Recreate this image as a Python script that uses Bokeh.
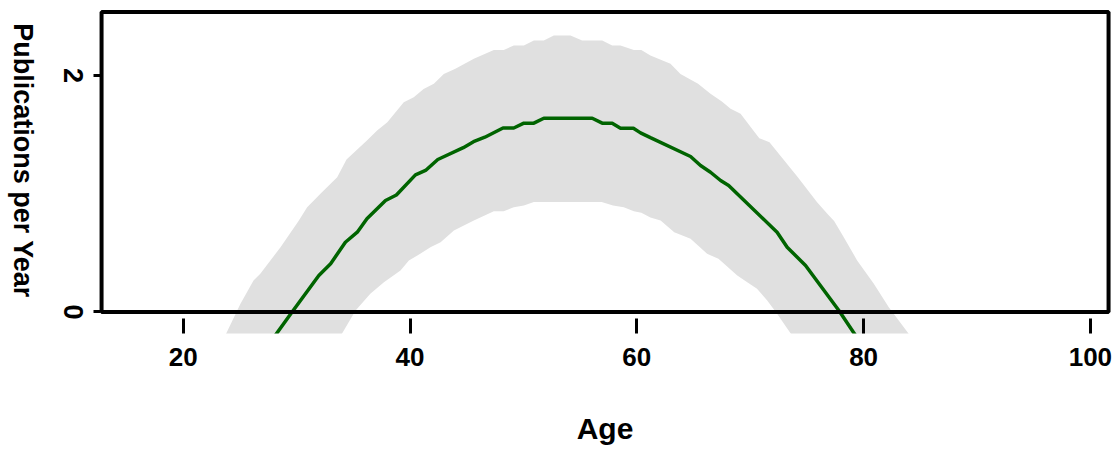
import math
from bokeh.plotting import figure
from bokeh.layouts import row
from bokeh.models import FixedTicker, BoxAnnotation, Range1d
from bokeh.core.properties import value
from bokeh.embed import file_html
from bokeh.resources import INLINE

# ---- data ----
line_age = [28.1, 29.6, 31.96, 33.0, 34.3, 35.35, 36.2, 37.84, 38.8, 40.48, 41.37, 42.45,
            44.7, 45.6, 46.6, 48.2, 49.15, 50.04, 50.92, 51.8, 56.07, 56.95, 57.83, 58.56,
            59.7, 60.33, 61.2, 64.74, 65.62, 66.5, 67.39, 68.1, 72.37, 73.26, 74.88, 77.82, 79.3]
line_val = [-0.2, 0.0, 0.309, 0.408, 0.59, 0.675, 0.788, 0.943, 0.99, 1.16, 1.197, 1.29,
            1.39, 1.44, 1.478, 1.556, 1.556, 1.597, 1.597, 1.639, 1.639, 1.597, 1.597, 1.554,
            1.554, 1.515, 1.475, 1.315, 1.239, 1.182, 1.112, 1.07, 0.675, 0.548, 0.393, 0.013, -0.2]

upper_age = [23.7, 25.05, 26.2, 26.8, 28.58, 30.2, 30.93, 31.8, 32.1, 33.58, 34.4, 36.2, 37.1,
             38.0, 39.45, 40.33, 41.2, 42.1, 42.98, 44.0, 45.63, 47.39, 48.27, 49.15, 50.04,
             50.92, 51.8, 52.68, 54.15, 55.18, 56.95, 57.83, 58.56, 59.74, 60.4, 61.2, 62.97,
             63.85, 65.4, 66.5, 67.5, 68.27, 69.15, 70.8, 71.7, 74.2, 75.9, 76.8, 77.4, 78.25,
             79.43, 80.9, 82.22, 84.1]
upper_val = [-0.2, 0.07, 0.266, 0.323, 0.548, 0.774, 0.886, 0.971, 1.0, 1.14, 1.29, 1.45, 1.535,
             1.605, 1.774, 1.817, 1.887, 1.93, 2.014, 2.057, 2.141, 2.217, 2.217, 2.254, 2.254,
             2.296, 2.296, 2.338, 2.338, 2.296, 2.296, 2.254, 2.254, 2.217, 2.217, 2.169, 2.099,
             2.014, 1.93, 1.845, 1.78, 1.718, 1.676, 1.47, 1.436, 1.14, 0.929, 0.83, 0.77, 0.633,
             0.436, 0.238, 0.041, -0.2]

lower_age = [33.9, 35.2, 36.5, 37.7, 39.16, 39.9, 40.9, 41.8, 42.7, 43.87, 45.63, 47.39, 48.27,
             49.15, 50.04, 50.92, 56.9, 57.9, 58.85, 59.74, 60.4, 61.2, 62.1, 63.3, 64.74, 66.2,
             67.2, 68.86, 69.74, 70.6, 71.5, 72.37, 73.7]
lower_val = [-0.2, 0.013, 0.154, 0.252, 0.351, 0.436, 0.492, 0.548, 0.59, 0.69, 0.774, 0.853, 0.853,
             0.886, 0.9, 0.93, 0.93, 0.9, 0.886, 0.853, 0.84, 0.8, 0.774, 0.675, 0.619, 0.492,
             0.45, 0.309, 0.252, 0.196, 0.097, -0.015, -0.2]

x_ticks = [20, 40, 60, 80, 100]
y_ticks = [0, 2]
x_title = "Age"
y_title = "Publications  per Year"

FONT = "Liberation Sans"
# plot region (the drawn box) and the slightly larger drawing frame
BOX_X = (12.8, 101.6)
BOX_YTOP = 2.537
X_RANGE = (12.53, 101.86)
Y_RANGE = (-0.182, 2.567)

yr = Range1d(*Y_RANGE)

# ---- main panel ----
p = figure(width=1022, height=460,
           x_range=Range1d(*X_RANGE), y_range=yr,
           output_backend="svg", toolbar_location=None,
           min_border_left=7, min_border_right=2, min_border_top=8, min_border_bottom=127)
p.outline_line_color = None
p.background_fill_color = "white"
p.border_fill_color = "white"
p.xgrid.visible = False
p.ygrid.visible = False

band_x = upper_age + lower_age[::-1]
band_y = upper_val + lower_val[::-1]
p.patch(band_x, band_y, fill_color="#e0e0e0", line_color=None)
p.line(line_age, line_val, line_color="#006400", line_width=3.5)

box = BoxAnnotation(left=BOX_X[0], right=BOX_X[1], top=BOX_YTOP, bottom=0,
                    fill_color=None, fill_alpha=0,
                    line_color="black", line_alpha=1.0, line_width=4)
p.add_layout(box)

xa = p.xaxis[0]
xa.ticker = FixedTicker(ticks=x_ticks)
xa.axis_line_color = None
xa.major_tick_in = 15
xa.major_tick_out = 0
xa.major_tick_line_width = 3
xa.major_tick_line_color = "black"
xa.minor_tick_line_color = None
xa.major_label_text_font = FONT
xa.major_label_text_font_style = "bold"
xa.major_label_text_font_size = "26px"
xa.major_label_text_color = "black"
xa.major_label_standoff = 14
xa.axis_label = x_title
xa.axis_label_text_font = FONT
xa.axis_label_text_font_style = "bold"
xa.axis_label_text_font_size = "30px"
xa.axis_label_text_color = "black"
xa.axis_label_standoff = 43

ya = p.yaxis[0]
ya.ticker = FixedTicker(ticks=y_ticks)
ya.axis_line_color = None
ya.major_tick_in = 2
ya.major_tick_out = 5
ya.major_tick_line_width = 3
ya.major_tick_line_color = "black"
ya.minor_tick_line_color = None
ya.major_label_text_color = None
ya.major_label_text_font_size = "0px"
ya.major_label_standoff = 0

# ---- left strip holding the rotated y texts ----
s = figure(width=91, height=460, x_range=Range1d(0, 91), y_range=yr,
           output_backend="svg", toolbar_location=None,
           x_axis_location=None, y_axis_location=None,
           min_border_left=0, min_border_right=0, min_border_top=8, min_border_bottom=127)
s.outline_line_color = None
s.background_fill_color = "white"
s.border_fill_color = "white"
s.xgrid.visible = False
s.ygrid.visible = False

s.text(x=[73] * len(y_ticks), y=y_ticks, text=[str(t) for t in y_ticks],
       angle=[-math.pi / 2] * len(y_ticks), text_align="center", text_baseline="middle",
       text_font=value(FONT), text_font_style="bold", text_font_size=value("27px"),
       text_color="black")
s.text(x=[22], y=[1.25], text=[y_title],
       angle=-math.pi / 2, text_align="center", text_baseline="middle",
       text_font=value(FONT), text_font_style="bold", text_font_size=value("27px"),
       text_color="black")

layout = row(s, p, spacing=0)
open("out.html", "w").write(file_html(layout, INLINE))
